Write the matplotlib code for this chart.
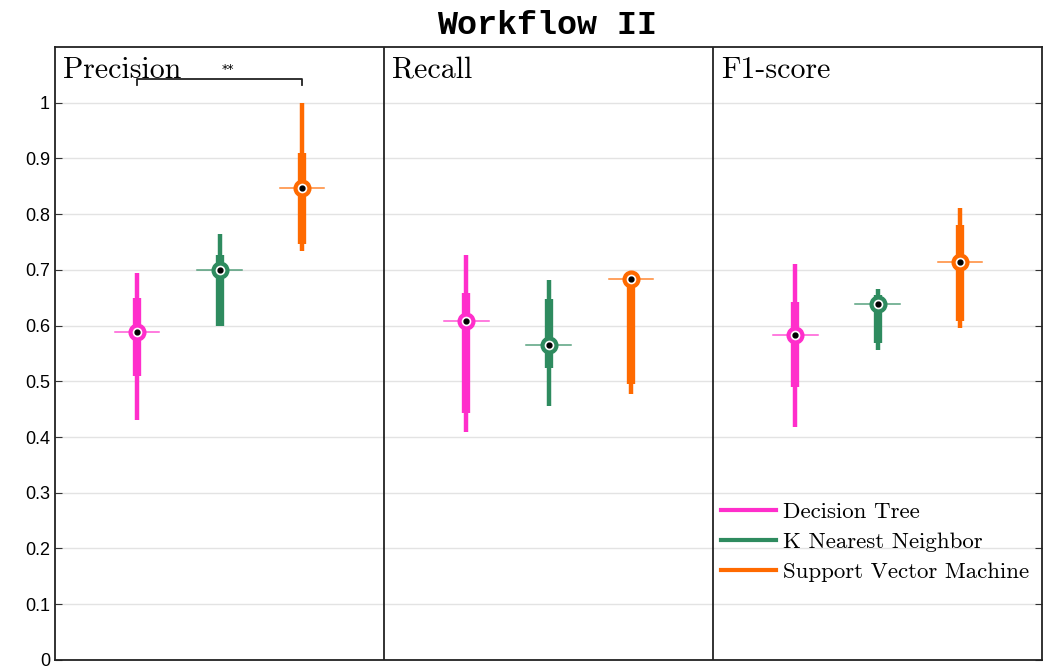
import matplotlib.pyplot as plt
import numpy as np

# data (per metric: DT, KNN, SVM)
metrics = ["Precision", "Recall", "F1-score"]
classifiers = ["Decision Tree", "K Nearest Neighbor", "Support Vector Machine"]
colors = ["#ff2ecb", "#2e8b5f", "#ff6a00"]

medians = [[0.588, 0.700, 0.846],
           [0.609, 0.565, 0.683],
           [0.583, 0.638, 0.714]]
box_lo = [[0.510, 0.600, 0.747],
          [0.443, 0.523, 0.495],
          [0.489, 0.568, 0.609]]
box_hi = [[0.650, 0.726, 0.910],
          [0.658, 0.647, 0.683],
          [0.643, 0.654, 0.780]]
wsk_lo = [[0.430, 0.600, 0.733],
          [0.409, 0.455, 0.478],
          [0.418, 0.556, 0.595]]
wsk_hi = [[0.695, 0.765, 1.000],
          [0.726, 0.681, 0.683],
          [0.710, 0.666, 0.810]]

yticks = [0, 0.1, 0.2, 0.3, 0.4, 0.5, 0.6, 0.7, 0.8, 0.9, 1]
ytick_labels = ["0", "0.1", "0.2", "0.3", "0.4", "0.5", "0.6", "0.7", "0.8", "0.9", "1"]

fig = plt.figure(figsize=(10.57, 6.69), dpi=100)
ax = fig.add_axes([0.052, 0.0135, 0.934, 0.9165])
ax.set_xlim(0, 12)
ax.set_ylim(0, 1.1)

for y in yticks:
    ax.axhline(y, color="#e3e3e3", lw=1, zorder=0)

for m in range(3):
    for c in range(3):
        x = 4 * m + c + 1
        col = colors[c]
        ax.plot([x, x], [wsk_lo[m][c], wsk_hi[m][c]], color=col, lw=3.2,
                solid_capstyle="butt", zorder=2)
        ax.plot([x, x], [box_lo[m][c], box_hi[m][c]], color=col, lw=6,
                solid_capstyle="butt", zorder=3)
        ax.plot([x - 0.27, x + 0.27], [medians[m][c]] * 2, color=col, lw=1.1,
                alpha=0.8, zorder=3)
        ax.plot(x, medians[m][c], "o", ms=10, mfc="white", mec=col, mew=3,
                zorder=4)
        ax.plot(x, medians[m][c], "o", ms=3.5, color="black", zorder=5)
    ax.text(4 * m + 0.1, 1.083, metrics[m], fontname="cmr10", fontsize=21.5,
            va="top", ha="left")

for xd in [4, 8]:
    ax.axvline(xd, color="#222222", lw=1.3, zorder=1)

# significance bracket
ax.plot([1, 1, 3, 3], [1.032, 1.043, 1.043, 1.032], color="#222222", lw=1.3)
ax.text(2.1, 1.047, "**", ha="center", va="bottom", fontsize=9)

handles = [plt.Line2D([], [], color=col, lw=3) for col in colors]
ax.legend(handles, classifiers, loc="center left", bbox_to_anchor=(0.665, 0.1925),
          frameon=False, prop={"family": "cmr10", "size": 16.5},
          handlelength=2.4, handletextpad=0.3, labelspacing=0.45,
          borderaxespad=0)

ax.set_yticks(yticks)
ax.set_yticklabels(ytick_labels, fontsize=13, family="Liberation Sans")
ax.set_xticks([])
ax.tick_params(axis="y", direction="in", right=True, length=5, color="#333333")
for s in ax.spines.values():
    s.set_color("#222222")
    s.set_linewidth(1.3)

fig.suptitle("Workflow II", x=0.518, y=0.985, fontsize=24,
             family="Liberation Mono", weight="bold")

fig.savefig("out.png", dpi=100)
